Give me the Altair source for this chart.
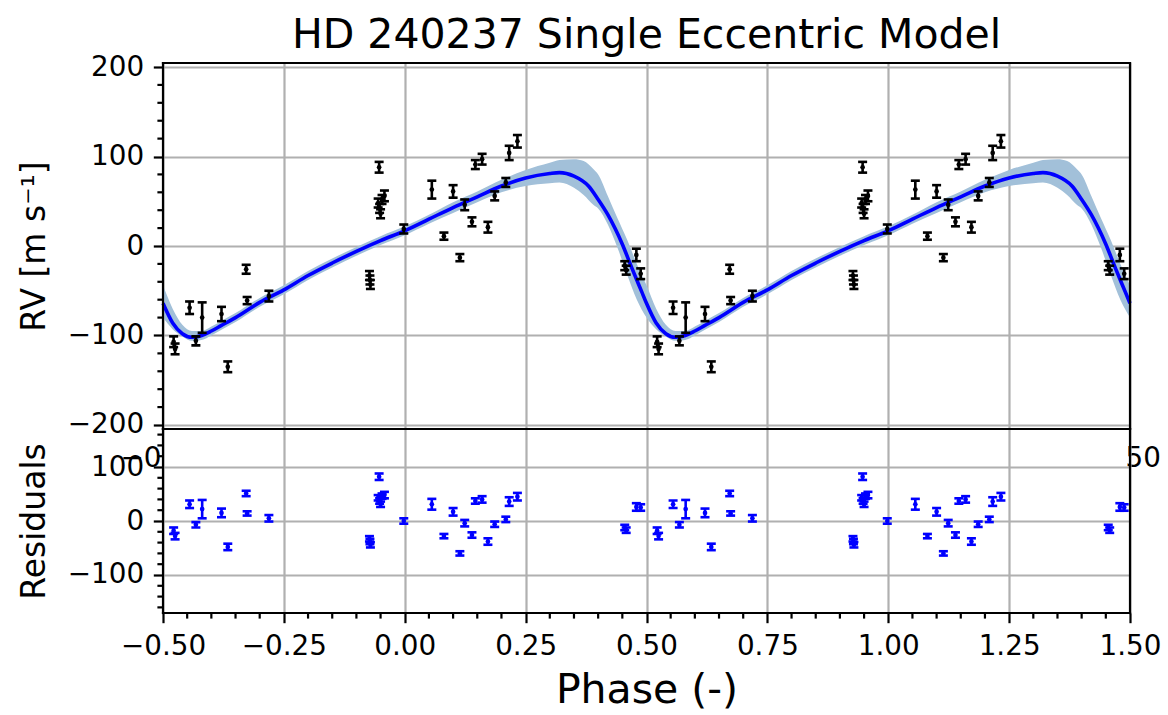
import altair as alt
import pandas as pd
import numpy as np

TITLE = "HD 240237 Single Eccentric Model"
X_TITLE = "Phase (-)"
Y_TITLE_TOP = "RV [m s\u207b\u00b9]"
Y_TITLE_BOT = "Residuals"
# parts of the upper panel's x tick labels that peek out beside the residual panel
LEAK_LEFT = "\u22120"
LEAK_RIGHT = "50"

# observations (phase-folded, one period in [-0.5, 0.5))
obs_phase = [-0.478, -0.475, -0.445, -0.432, -0.419, -0.379, -0.366, -0.328, -0.326, -0.281,
             -0.073, -0.072, -0.071, -0.053, -0.055, -0.052, -0.050, -0.047, -0.042, -0.002,
             0.056, 0.081, 0.100, 0.114, 0.124, 0.139, 0.146, 0.160, 0.172, 0.186,
             0.209, 0.216, 0.233, 0.455, 0.458, 0.479, 0.488]
obs_rv = [-107, -115, -69, -106, -80, -76, -135, -26, -61, -56,
          -33, -38, -43, 88, 48, 42, 36, 52, 56, 19,
          63, 11, 61, -13, 46, 27, 91, 97, 21, 56,
          71, 104, 117, -22, -27, -10, -31]
obs_err = [6, 6, 7, 5, 17, 8, 6, 5, 4, 6,
           5, 5, 5, 6, 5, 5, 5, 5, 6, 5,
           10, 4, 7, 4, 6, 5, 5, 6, 6, 5,
           5, 8, 7, 5, 5, 7, 6]
obs_res = [-18, -28, 31, -7, 22, 15, -48, 51, 14, 5,
           -33, -38, -44, 82, 43, 37, 31, 46, 48, 0,
           31, -28, 17, -60, -4, -26, 37, 40, -38, -6,
           3, 36, 45, -12, -17, 26, 25]

# best-fit model over one period
model_phase = [-0.50, -0.48, -0.46, -0.44, -0.42, -0.40, -0.38, -0.35, -0.30, -0.25,
               -0.20, -0.15, -0.10, -0.05, 0.00, 0.05, 0.10, 0.15, 0.20, 0.25,
               0.30, 0.32, 0.35, 0.38, 0.40, 0.42, 0.45, 0.47, 0.49, 0.50]
model_rv = [-64, -86, -98, -102, -100, -95, -89, -80, -63, -49,
            -33, -19, -6, 6, 17, 30, 43, 55, 67, 76,
            81, 82, 78, 67, 52, 35, 2, -25, -51, -64]

# uncertainty band over one period
band_phase = [-0.50, -0.48, -0.46, -0.44, -0.42, -0.40, -0.38, -0.35, -0.30, -0.25,
              -0.20, -0.15, -0.10, -0.05, 0.00, 0.05, 0.10, 0.15, 0.20, 0.25,
              0.30, 0.32, 0.35, 0.37, 0.39, 0.40, 0.42, 0.44, 0.46, 0.48, 0.50]
band_lo = [-80, -93, -101, -106, -105, -100, -94, -85, -68, -54,
           -38, -24, -11, 1, 12, 25, 37, 49, 60, 67,
           70, 71, 65, 57, 46, 42, 24, -2, -32, -60, -80]
band_hi = [-44, -70, -88, -95, -95, -90, -84, -75, -58, -44,
           -28, -14, -1, 11, 22, 35, 49, 61, 74, 85,
           93, 96, 97, 95, 86, 80, 56, 31, 7, -20, -44]

x_ticks = [-0.5, -0.25, 0.0, 0.25, 0.5, 0.75, 1.0, 1.25, 1.5]
rv_ticks = [-200, -100, 0, 100, 200]
res_ticks = [-100, 0, 100]

# minor tick positions
rv_minor = [v for v in range(-200, 201, 20) if v % 100 != 0]
res_minor = [v for v in range(-160, 161, 20) if v % 100 != 0]
x_minor = [round(v, 2) for v in np.arange(-0.45, 1.5, 0.05) if abs(v / 0.25 - round(v / 0.25)) > 1e-6]

# ---------------- tables ----------------
obs = pd.DataFrame({"phase": obs_phase, "rv": obs_rv, "err": obs_err, "res": obs_res})
obs2 = obs.copy()
obs2["phase"] = obs2["phase"] + 1.0
obs_all = pd.concat([obs, obs2], ignore_index=True)
obs_all = obs_all[(obs_all.phase >= -0.5) & (obs_all.phase <= 1.5)].copy()
obs_all["lo"] = obs_all.rv - obs_all.err
obs_all["hi"] = obs_all.rv + obs_all.err
obs_all["rlo"] = obs_all.res - obs_all.err
obs_all["rhi"] = obs_all.res + obs_all.err


def two_periods(df):
    d2 = df.copy()
    d2["phase"] = d2["phase"] + 1.0
    return pd.concat([df, d2], ignore_index=True).drop_duplicates("phase").sort_values("phase")


model_all = two_periods(pd.DataFrame({"phase": model_phase, "rv": model_rv}))
band_all = two_periods(pd.DataFrame({"phase": band_phase, "lo": band_lo, "hi": band_hi}))

W, H1, H2 = 967, 366, 184
FONT = "DejaVu Sans"
LW = 2.2
EW = 2.6
TICK = 9.7
MINOR = 5.6
TICKFS = 27.8

xscale = alt.Scale(domain=[-0.5, 1.5], nice=False, zero=False)
yscale_top = alt.Scale(domain=[-204.5, 204.5], nice=False, zero=False)
yscale_bot = alt.Scale(domain=[-170.4, 170.4], nice=False, zero=False)


def x_axis(title=None, labels=True):
    kw = dict(values=x_ticks, format=".2f", grid=True, domain=False, ticks=labels, labels=labels,
              labelFlush=False, labelOverlap=False, tickSize=TICK, tickWidth=LW,
              tickColor="black", labelPadding=TICK, labelFontSize=TICKFS, labelFont=FONT,
              labelColor="black", gridColor="#b0b0b0", gridWidth=LW)
    if title:
        kw.update(title=title, titleFontSize=41, titleFont=FONT, titleFontWeight="normal",
                  titleColor="black", titlePadding=10)
    else:
        kw.update(title=None)
    return alt.Axis(**kw)


def y_axis(values, title):
    return alt.Axis(values=values, format="d", grid=True, domain=False, ticks=True,
                    labelOverlap=False, tickSize=TICK, tickWidth=LW, tickColor="black",
                    labelPadding=TICK, labelFontSize=TICKFS, labelFont=FONT, labelColor="black",
                    gridColor="#b0b0b0", gridWidth=LW, title=title, titleFontSize=33,
                    titleFont=FONT, titleFontWeight="normal", titleColor="black", titlePadding=16)


XA_TOP = x_axis(labels=False)
XA_BOT = x_axis(X_TITLE)
YA_TOP = y_axis(rv_ticks, Y_TITLE_TOP)
YA_BOT = y_axis(res_ticks, Y_TITLE_BOT)

one = pd.DataFrame({"a": [0]})


def frame(h):
    base = alt.Chart(one).mark_rule(color="black", strokeWidth=LW, strokeCap="square")
    return [
        base.encode(x=alt.value(0), y=alt.value(0), y2=alt.value(h)),
        base.encode(x=alt.value(W), y=alt.value(0), y2=alt.value(h)),
        base.encode(y=alt.value(0), x=alt.value(0), x2=alt.value(W)),
        base.encode(y=alt.value(h), x=alt.value(0), x2=alt.value(W)),
    ]


def X(field, axis):
    return alt.X(field, type="quantitative", scale=xscale, axis=axis)


def Y(field, scale, axis):
    return alt.Y(field, type="quantitative", scale=scale, axis=axis)


def errorbars(color, yscale, yaxis, xaxis, lo, hi, mid):
    bars = alt.Chart(obs_all).mark_rule(color=color, strokeWidth=EW).encode(
        x=X("phase", xaxis), y=Y(lo, yscale, yaxis), y2=f"{hi}:Q")
    c1 = alt.Chart(obs_all).mark_tick(orient="horizontal", color=color, size=9, thickness=EW, opacity=1).encode(
        x=X("phase", xaxis), y=Y(lo, yscale, yaxis))
    c2 = alt.Chart(obs_all).mark_tick(orient="horizontal", color=color, size=9, thickness=EW, opacity=1).encode(
        x=X("phase", xaxis), y=Y(hi, yscale, yaxis))
    p = alt.Chart(obs_all).mark_circle(color=color, size=22, opacity=1).encode(
        x=X("phase", xaxis), y=Y(mid, yscale, yaxis))
    return [bars, c1, c2, p]


# ---------------- top panel ----------------
band = alt.Chart(band_all).mark_area(color="#a2c0d9", interpolate="monotone").encode(
    x=X("phase", XA_TOP), y=Y("lo", yscale_top, YA_TOP), y2="hi:Q",
)
line = alt.Chart(model_all).mark_line(color="#0000ff", strokeWidth=3.6, interpolate="monotone").encode(
    x=X("phase", XA_TOP), y=Y("rv", yscale_top, YA_TOP),
)
minor_top = alt.Chart(pd.DataFrame({"v": rv_minor})).mark_rule(color="black", strokeWidth=LW).encode(
    y=Y("v", yscale_top, YA_TOP), x=alt.value(-MINOR), x2=alt.value(0),
)
leak_l = alt.Chart(one).mark_text(text=LEAK_LEFT, align="right", baseline="middle", font=FONT,
                                  fontSize=TICKFS, color="black").encode(
    x=alt.value(-1.5), y=alt.value(H1 + 30))
leak_r = alt.Chart(one).mark_text(text=LEAK_RIGHT, align="left", baseline="middle", font=FONT,
                                  fontSize=TICKFS, color="black").encode(
    x=alt.value(W - 4.5), y=alt.value(H1 + 30))

top = alt.layer(
    band, line,
    *errorbars("black", yscale_top, YA_TOP, XA_TOP, "lo", "hi", "rv"),
    minor_top, *frame(H1), leak_l, leak_r,
).properties(
    width=W, height=H1,
    title=alt.TitleParams(text=TITLE, fontSize=41, font=FONT, fontWeight="normal", color="black",
                          anchor="middle", frame="group", offset=-4),
)

# ---------------- residual panel ----------------
minor_bot_y = alt.Chart(pd.DataFrame({"v": res_minor})).mark_rule(color="black", strokeWidth=LW).encode(
    y=Y("v", yscale_bot, YA_BOT), x=alt.value(-MINOR), x2=alt.value(0),
)
minor_bot_x = alt.Chart(pd.DataFrame({"v": x_minor})).mark_rule(color="black", strokeWidth=LW).encode(
    x=X("v", XA_BOT), y=alt.value(H2), y2=alt.value(H2 + MINOR),
)

bottom = alt.layer(
    *errorbars("#0000ff", yscale_bot, YA_BOT, XA_BOT, "rlo", "rhi", "res"),
    minor_bot_y, minor_bot_x, *frame(H2),
).properties(width=W, height=H2)

chart = alt.vconcat(top, bottom, spacing=0, bounds="flush").properties(
    padding={"left": 17, "top": 14, "right": 5, "bottom": 5},
    background="white",
).configure_view(stroke=None, fill="white").configure(font=FONT)

chart.save("out.html", embed_options={"renderer": "svg", "actions": False})
